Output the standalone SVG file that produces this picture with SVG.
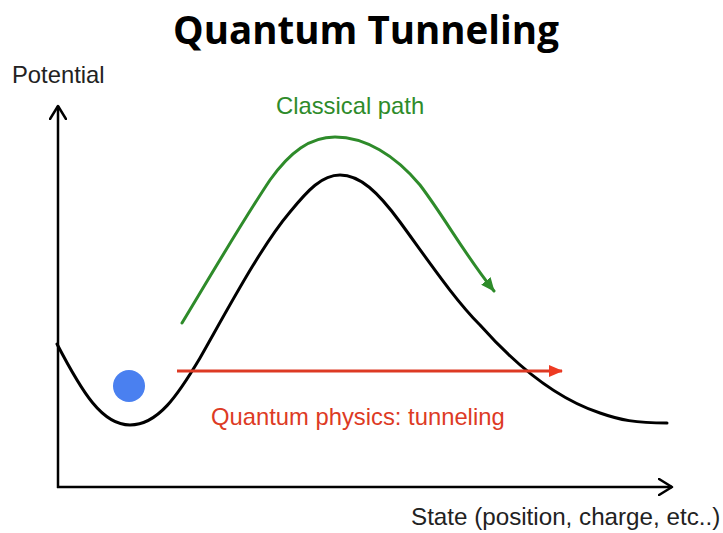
<svg xmlns="http://www.w3.org/2000/svg" width="723" height="533" viewBox="0 0 723 533">
  <style>
    .lbl { font-family: "Liberation Sans", Arial, sans-serif; font-size: 23.8px; }
    .title { font-family: "Open Sans", "Noto Sans", sans-serif; font-weight: bold; font-size: 38.5px; fill: #000; }
    .axis { stroke: #000; stroke-width: 2.5; fill: none; }
    .curve { stroke: #000; stroke-width: 3; fill: none; stroke-linecap: round; }
  </style>
  <defs>
    <marker id="open" markerUnits="userSpaceOnUse" viewBox="0 0 16 18" refX="14" refY="9" markerWidth="16" markerHeight="18" orient="auto">
      <path d="M1,1 L14,9 L1,17" fill="none" stroke="#000" stroke-width="2.5" stroke-linecap="round" stroke-linejoin="round"/>
    </marker>
    <marker id="greenHead" markerUnits="userSpaceOnUse" viewBox="0 0 14 12" refX="13" refY="6" markerWidth="14" markerHeight="12" orient="auto">
      <path d="M0,0 L14,6 L0,12 z" fill="#2e8b2a"/>
    </marker>
    <marker id="redHead" markerUnits="userSpaceOnUse" viewBox="0 0 14 12" refX="13" refY="6" markerWidth="14" markerHeight="12" orient="auto">
      <path d="M0,0 L14,6 L0,12 z" fill="#ee3a22"/>
    </marker>
  </defs>
  <rect width="723" height="533" fill="#fff"/>

  <g id="title">
    <text class="title" x="366" y="44" text-anchor="middle">Quantum Tunneling</text>
  </g>

  <g id="axes">
    <path class="axis" d="M58,488 L58,106" marker-end="url(#open)"/>
    <path class="axis" d="M57,487 L672,487" marker-end="url(#open)"/>
    <text class="lbl" x="12" y="83" fill="#222">Potential</text>
    <text class="lbl" x="411" y="525" fill="#222" style="font-size:24.2px">State (position, charge, etc..)</text>
  </g>

  <g id="potential">
    <path class="curve" d="M57,344 C82,392 102,425 130,425 C158,425 178,395 200,358 C230,305 262,245 290,212 C308,190 322,175 340,175 C360,175 378,192 400,222 C430,263 455,300 480,325 C520,370 560,400 600,413 C620,420 635,423 667,423"/>
  </g>

  <g id="particle">
    <circle cx="129" cy="386" r="16" fill="#4a80f0"/>
  </g>

  <g id="connectors">
    <path d="M182,323 C205,285 240,225 270,180 C290,152 310,137 335,137 C365,137 395,155 420,185 C445,218 465,255 494,291" fill="none" stroke="#2e8b2a" stroke-width="3" stroke-linecap="round" marker-end="url(#greenHead)"/>
    <path d="M177,371 L562,371" fill="none" stroke="#dd3a24" stroke-width="3" marker-end="url(#redHead)"/>
  </g>

  <g id="labels">
    <text class="lbl" x="276" y="114" fill="#2e8b2a">Classical path</text>
    <text class="lbl" x="211" y="425" fill="#dd3a24">Quantum physics: tunneling</text>
  </g>
</svg>
